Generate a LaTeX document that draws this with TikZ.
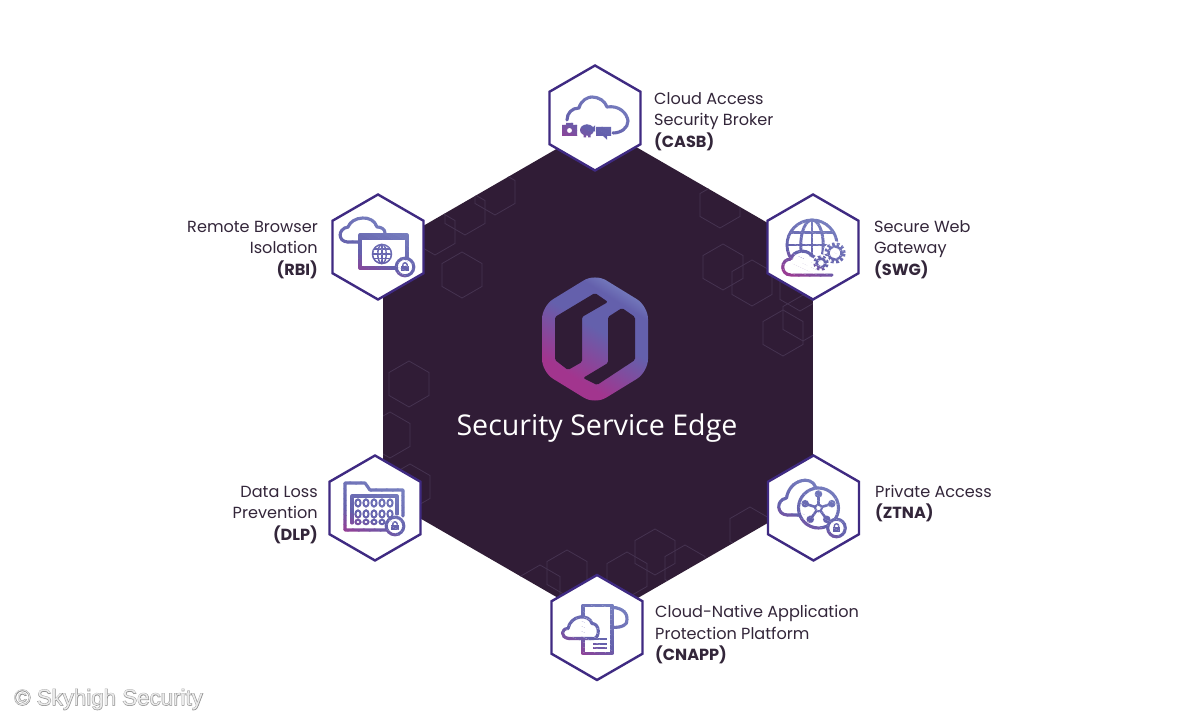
\documentclass[tikz,border=0pt]{standalone}
\usepackage{fontspec}
\usetikzlibrary{shapes.geometric}
\setmainfont{Poppins}
\newfontfamily\titlefont{Open Sans}
\newfontfamily\markfont{Liberation Sans}
\newfontfamily\markhalo[FakeBold=4]{Liberation Sans}
\definecolor{bgdark}{HTML}{301C36}
\definecolor{hexline}{HTML}{3F2A82}
\definecolor{texline}{HTML}{453350}
\definecolor{labelc}{HTML}{33263A}
\definecolor{mag}{HTML}{A2358E}
\definecolor{mid}{HTML}{6460AC}
\definecolor{per}{HTML}{7F8CC8}
\pgfdeclareverticalshading{logoshade}{100bp}{
  color(0bp)=(mag); color(32bp)=(mag); color(54bp)=(mid); color(68bp)=(mid); color(78bp)=(per); color(100bp)=(per)}
\tikzset{
  hexbox/.style={regular polygon,regular polygon sides=6,shape border rotate=30,minimum size=105pt,inner sep=0pt,outer sep=0pt,draw=hexline,fill=white,line width=2.4pt},
  bighex/.style={regular polygon,regular polygon sides=6,shape border rotate=30,minimum size=496pt,inner sep=0pt,outer sep=0pt,fill=bgdark},
  tex/.style={regular polygon,regular polygon sides=6,shape border rotate=30,minimum size=46pt,inner sep=0pt,draw=texline,line width=0.8pt},
  lab/.style={text=labelc,font=\fontsize{16.1}{21.6}\selectfont},
  ll/.style={draw=ic,line width=3.1pt,line cap=round,line join=round},
  lw/.style={ll,fill=white},
}
\newcommand\gradicon[2]{%
  \begin{scope}[shift={#1}]
  \foreach \k in {0,...,18}{%
    \pgfmathtruncatemacro\gpa{\k*100/6}%
    \ifnum\k<6 \colorlet{ic}{mid!\gpa!mag}\else
      \pgfmathtruncatemacro\gpb{(\k-6)*100/12}\colorlet{ic}{per!\gpb!mid}\fi
    \begin{scope}
      \clip[rotate=-25] (-80,{-42+\k*4.6}) rectangle (80,{-42+\k*4.6+5});
      #2
    \end{scope}
  }%
  \end{scope}}
\newcommand\lockb[2]{\begin{scope}[shift={(#1,#2)}]
  \draw[lw] (0,0) circle (8.8);
  \fill[ic] (-3.8,-4.4) rectangle (3.8,0.8);
  \draw[draw=ic,line width=1.4pt] (-2.2,0.8) -- (-2.2,2) arc (180:0:2.2) -- (2.2,0.8);
  \end{scope}}
\newcommand\globeb[4]{\begin{scope}[shift={(#1,#2)}]
  \draw[lw,line width=#4] (0,0) circle (#3);
  \draw[draw=ic,line width=#4] (0,0) ellipse ({0.45*#3} and #3);
  \draw[draw=ic,line width=#4] (0,-#3) -- (0,#3) (-#3,0) -- (#3,0)
     ({-0.86*#3},{0.5*#3}) -- ({0.86*#3},{0.5*#3}) ({-0.86*#3},{-0.5*#3}) -- ({0.86*#3},{-0.5*#3});
  \end{scope}}
\newcommand\gearb[3]{\begin{scope}[shift={(#1,#2)}]
  \fill[white] (0,0) circle ({#3+2.8});
  \draw[draw=ic,line width=3.4pt,dash pattern=on 2.6pt off 2.2pt] (0,0) circle ({#3});
  \draw[draw=ic,line width=2.4pt,fill=white] (0,0) circle ({#3*0.72});
  \end{scope}}
\begin{document}
\begin{tikzpicture}[x=1pt,y=1pt]
\useasboundingbox (0,0) rectangle (1200,720);
\fill[white] (0,0) rectangle (1200,720);
% big hexagon
\node[bighex] (core) at (598,347) {};
\begin{scope}
  \clip (core.corner 1) -- (core.corner 2) -- (core.corner 3) -- (core.corner 4) -- (core.corner 5) -- (core.corner 6) -- cycle;
  \foreach \hx/\hy/\hn in {723/267/a,752/283/b,783/333/c,803/318/d,800/288/e,720/205/f,
     462/275/h,495/192/i,465/212/j,435/232/k,409/384/l,390/435/m,410/487/n,
     567/573/o,627/575/p,685/568/q,540/588/r,655/552/s,750/530/t}{
    \node[tex] (tx\hn) at (\hx,720-\hy) {};
  }
\end{scope}
% logo
\begin{scope}[shift={(595,381)}]
  \shade[rounded corners=13pt,shading=logoshade,shading angle=-32]
    (0,65.5) -- (53,33) -- (53,-33) -- (0,-65.5) -- (-53,-33) -- (-53,33) -- cycle;
  \fill[bgdark,rounded corners=1.5pt] (-40,22) -- (0,46) -- (13,37) -- (-13,22) -- (-13,-23) -- (-27,-31) -- (-40,-21) -- cycle;
  \fill[bgdark,rounded corners=1.5pt] (13,22) -- (27,31) -- (40,22) -- (40,-21) -- (2,-46) -- (-12,-39) -- (13,-24) -- cycle;
\end{scope}
\node[text=white,font=\titlefont\fontsize{28.6}{32}\selectfont] (title) at (597,291.5) {Security Service Edge};
% small hexagons
\node[hexbox] (casb) at (595,602) {};
\node[hexbox] (rbi) at (378,473) {};
\node[hexbox] (swg) at (813,473) {};
\node[hexbox] (dlp) at (375,212) {};
\node[hexbox] (ztna) at (813.5,212) {};
\node[hexbox] (cnapp) at (597,92.5) {};
% labels
\node[lab,anchor=west,align=left,inner sep=0pt] (lcasb) at (654,598.3) {Cloud Access\\Security Broker\\\textbf{(CASB)}};
\node[lab,anchor=west,align=left,inner sep=0pt] (lswg) at (874,470.3) {Secure Web\\Gateway\\\textbf{(SWG)}};
\node[lab,anchor=west,align=left,inner sep=0pt] (lztna) at (875,216.3) {Private Access\\\textbf{(ZTNA)}};
\node[lab,anchor=west,align=left,inner sep=0pt] (lcnapp) at (655,85.3) {Cloud-Native Application\\Protection Platform\\\textbf{(CNAPP)}};
\node[lab,anchor=east,align=right,inner sep=0pt] (lrbi) at (318,470.3) {Remote Browser\\Isolation\\\textbf{(RBI)}};
\node[lab,anchor=east,align=right,inner sep=0pt] (ldlp) at (318,205.3) {Data Loss\\Prevention\\\textbf{(DLP)}};
% CASB icon
\gradicon{(595,602)}{
  \draw[ll] (-28,-2) .. controls (-28,5) and (-23,10) .. (-16,10) .. controls (-14,18) and (-7,21) .. (-3,21) .. controls (4,21) and (10,17) .. (12,11) .. controls (24,13) and (32,5) .. (33,-3) .. controls (33,-10) and (26,-15) .. (18,-15);
  \fill[ic,even odd rule] (-33,-7) -- (-29,-7) -- (-29,-5) -- (-22,-5) -- (-22,-7) -- (-18,-7) -- (-18,-18) -- (-33,-18) -- cycle (-25.5,-12.5) circle (2.6);
  \fill[ic] (-8,-12) ellipse (7 and 5.6);
  \fill[ic] (-11.5,-16) rectangle (-9,-19.5) (-7,-16) rectangle (-4.5,-19.5) (-3,-10) -- (0,-7.5) -- (0,-14) -- cycle;
  \fill[ic] (1,-9) rectangle (16,-18) (8,-18) -- (12,-18) -- (12,-21.5) -- cycle;
}
% SWG icon
\gradicon{(813,473)}{
  \globeb{-1}{2}{25}{2.9pt}
  \draw[lw] (19,-28) -- (-22,-28) .. controls (-33,-28) and (-33,-12) .. (-22,-12) .. controls (-20,-3) and (-6,-2) .. (-2,-8) .. controls (3,-12) and (8,-12) .. (11,-10);
  \fill[white] (-22,-26.5) rectangle (19,-13) (-2,-12) -- (12,-12) -- (12,-9) -- cycle;
  \gearb{22}{-6}{9}
  \gearb{8}{-16}{6}
}
% RBI icon
\gradicon{(378,473)}{
  \draw[ll] (-18,5) -- (-30,5) .. controls (-40,5) and (-41,18) .. (-30,20) .. controls (-26,31) and (-5,33) .. (-1,20) .. controls (3,20) and (7,18) .. (7,14);
  \draw[ll] (-18,12) rectangle (29,-21);
  \fill[ic] (-18,12) rectangle (29,7);
  \globeb{4}{-7}{9.5}{1.5pt}
  \lockb{27}{-20}
}
% DLP icon
\gradicon{(375,212)}{
  \draw[ll] (12,-22) -- (-30,-22) -- (-30,25) -- (-10,25) -- (-5,18) -- (28,18) -- (28,-8);
  \draw[ll] (-23,-15) -- (-23,12) -- (22,12) -- (22,-6);
  \foreach \bx in {-17,-9,-1,7,15}{
    \draw[draw=ic,line width=2pt] (\bx,5) ellipse (2.6 and 3.6);
    \draw[draw=ic,line width=2pt] (\bx,-6) ellipse (2.6 and 3.6);
    \draw[draw=ic,line width=2pt] (\bx,-14) ellipse (2.6 and 2.2);
  }
  \lockb{20}{-18}
}
% ZTNA icon
\gradicon{(813.5,212)}{
  \draw[ll] (-10,-7) -- (-26,-7) .. controls (-37,-7) and (-38,8) .. (-27,10) .. controls (-24,29) and (-2,33) .. (2,21) .. controls (3,20) and (4,20) .. (4,19);
  \draw[lw] (5,0) circle (20);
  \foreach \sa in {90,18,-54,-126,162}{
    \draw[draw=ic,line width=2.6pt] (5,0) -- ++(\sa:14);
    \fill[ic] (5,0) ++(\sa:14) circle (3.8);
  }
  \draw[draw=ic,line width=2pt,fill=white] (5,0) circle (3.4);
  \lockb{23}{-20}
}
% CNAPP icon
\gradicon{(597,92.5)}{
  \draw[ll] (15,20) .. controls (26,20) and (31,13) .. (30,8) .. controls (31,2) and (24,0) .. (15,0);
  \draw[lw] (-14,22) -- (15,22) -- (15,-26) -- (-14,-26) -- cycle;
  \draw[lw] (-28,-11) .. controls (-37,-10) and (-36,-1) .. (-29,-1) .. controls (-26,13) and (-8,14) .. (-5,4) .. controls (3,4) and (3,-10) .. (-3,-11) -- cycle;
  \draw[draw=ic,line width=2pt] (-4,-12) -- (10,-12) (-4,-16.5) -- (10,-16.5) (-4,-21) -- (10,-21);
}
% credit
\node[text=black!55,opacity=0.7,font=\markhalo\fontsize{22.3}{26}\selectfont,anchor=west,inner sep=0pt] (credithalo) at (14,20.5) {© Skyhigh Security};
\node[text=black!8,font=\markfont\fontsize{22.3}{26}\selectfont,anchor=west,inner sep=0pt] (credit) at (14,20.5) {© Skyhigh Security};
\end{tikzpicture}
\end{document}
